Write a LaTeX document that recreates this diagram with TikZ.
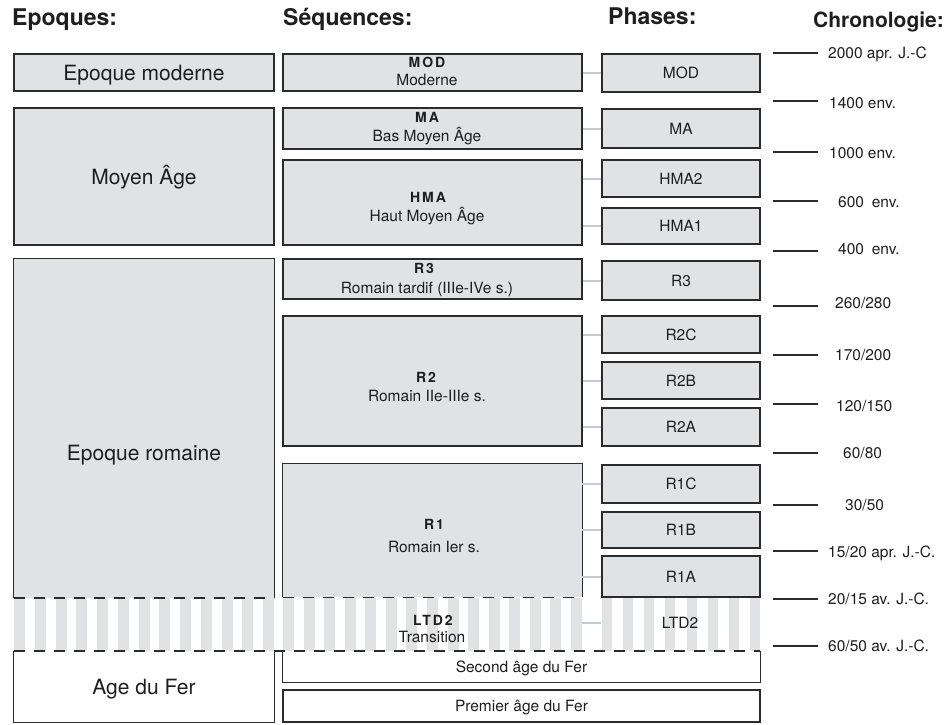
\documentclass[tikz,border=0pt]{standalone}
\usepackage{fontspec}
\setmainfont{TeX Gyre Heros}
\newfontfamily\codefont[LetterSpace=14]{TeX Gyre Heros}
\definecolor{boxfill}{HTML}{E1E2E4}
\definecolor{boxline}{HTML}{2B2B2B}
\definecolor{connc}{HTML}{C9C9C9}
\definecolor{txt}{HTML}{1E1E1E}
% name, x1, y1, x2, y2, style, text
\newcommand\Bx[7]{\node[#6, minimum width={(#4-#2)*1pt}, minimum height={(#5-#3)*1pt}] (#1) at ({(#2+#4)/2},{(#3+#5)/2}) {#7};}
\begin{document}
\begin{tikzpicture}[x=1pt,y=-1pt,
  gbox/.style={draw=boxline, fill=boxfill, line width=1.2pt, inner sep=0pt, align=center, text=txt,
    font=\fontsize{15.5}{18}\selectfont, text height=11.1pt, text depth=0pt},
  fillonly/.style={fill=boxfill, inner sep=0pt, text=txt},
  wfill/.style={fill=white, inner sep=0pt, text=txt, font=\fontsize{15.5}{18}\selectfont, text height=11.1pt, text depth=0pt},
  big/.style={font=\fontsize{21}{24}\selectfont, text height=15.1pt, text depth=0pt},
  bigtext/.style={inner sep=0pt, text=txt, font=\fontsize{21}{24}\selectfont, text height=15.1pt, text depth=0pt},
  head/.style={anchor=base west, inner sep=0pt, text=txt, font=\fontsize{23}{26}\selectfont\bfseries},
  code/.style={anchor=base, inner sep=0pt, text=txt, font=\codefont\fontsize{14}{16}\selectfont\bfseries},
  sub/.style={anchor=base, inner sep=0pt, text=txt, font=\fontsize{15.5}{18}\selectfont},
  ptext/.style={inner sep=0pt, text=txt, font=\fontsize{15.5}{18}\selectfont, text height=11.1pt, text depth=0pt},
  chron/.style={anchor=west, inner sep=0pt, text=txt, font=\fontsize{15.5}{18}\selectfont, text height=11.1pt, text depth=0pt},
  tickline/.style={draw=boxline, line width=1.2pt},
  conn/.style={draw=connc, line width=2pt},
  border/.style={draw=boxline, line width=1.2pt},
  dashline/.style={draw=boxline, line width=1.2pt, dash pattern=on 11pt off 9pt}]
\useasboundingbox (0,0) rectangle (950,724);
\fill[white] (0,0) rectangle (950,724);

% striped transition band (per column)
\foreach \i in {0,...,12} \fill[boxfill] ({14+\i*20.75},598) rectangle ++(11,53);
\foreach \i in {0,...,14} \fill[boxfill] ({283+\i*20.57},598) rectangle ++(11,53);
\foreach \i in {0,...,7} \fill[boxfill] ({602+\i*21.14},598) rectangle ++(10,53);

% headers
\node[head] (hEp) at (12,25) {Epoques:};
\node[head] (hSeq) at (283,25) {Séquences:};
\node[head] (hPh) at (608,24) {Phases:};
\node[head, font=\fontsize{21}{24}\selectfont\bfseries] (hCh) at (813,27) {Chronologie:};

% ---- column 1: epoques
\Bx{eMod}{14}{54}{274}{91}{gbox,big}{Epoque moderne}
\Bx{eMA}{14}{108}{274}{245}{gbox,big}{Moyen Âge}
\Bx{eRom}{14}{259}{274}{598}{fillonly}{}
\draw[border] (eRom.south west) -- (eRom.north west) -- (eRom.north east) -- (eRom.south east);
\node[bigtext] (eRomT) at (144,453) {Epoque romaine};
\Bx{eFer}{14}{651}{274}{722}{wfill,big}{Age du Fer}
\draw[border] (eFer.north west) -- (eFer.south west) -- (eFer.south east) -- (eFer.north east);

% ---- column 2: sequences
\Bx{sMod}{283}{54}{582}{91}{gbox}{}
\node[code] (sModC) at (427,67) {MOD};
\node[sub] (sModS) at (427,85) {Moderne};
\Bx{sMA}{283}{108}{582}{149}{gbox}{}
\node[code] (sMAC) at (427,122) {MA};
\node[sub] (sMAS) at (427,141) {Bas Moyen Âge};
\Bx{sHMA}{283}{160}{582}{245}{gbox}{}
\node[code] (sHMAC) at (428,202) {HMA};
\node[sub] (sHMAS) at (427,221) {Haut Moyen Âge};
\Bx{sR3}{283}{259}{582}{299}{gbox}{}
\node[code] (sR3C) at (424,273) {R3};
\node[sub] (sR3S) at (427,293) {Romain tardif (IIIe-IVe s.)};
\Bx{sR2}{283}{316}{582}{446}{gbox}{}
\node[code] (sR2C) at (426,382) {R2};
\node[sub] (sR2S) at (427,401) {Romain IIe-IIIe s.};
\Bx{sR1}{283}{464}{582}{597}{fillonly}{}
\draw[border] (sR1.south west) -- (sR1.north west) -- (sR1.north east) -- (sR1.south east);
\node[code] (sR1C) at (434,529) {R1};
\node[sub] (sR1S) at (434,552) {Romain Ier s.};
\node[code] (sLTDC) at (433,625) {LTD2};
\node[sub] (sLTDS) at (432,642) {Transition};
\Bx{sFer2}{283}{651}{760}{682}{wfill}{Second âge du Fer}
\draw[border] (sFer2.north west) -- (sFer2.south west) -- (sFer2.south east) -- (sFer2.north east);
\Bx{sFer1}{283}{690}{760}{722}{gbox,fill=white}{Premier âge du Fer}

% dashed limits of the transition band
\draw[dashline] (14,598) -- (274,598);
\draw[dashline] (283,597.5) -- (582,597.5);
\draw[dashline] (14,651) -- (760,651);

% ---- column 3: phases
\Bx{pMod}{602}{54}{760}{92}{gbox}{MOD}
\Bx{pMA}{602}{109}{760}{148}{gbox}{MA}
\Bx{pHMA2}{602}{160}{760}{197}{gbox}{HMA2}
\Bx{pHMA1}{602}{208}{760}{244}{gbox}{HMA1}
\Bx{pR3}{602}{261}{760}{300}{gbox}{R3}
\Bx{pR2C}{602}{316}{760}{353}{gbox}{R2C}
\Bx{pR2B}{602}{362}{760}{399}{gbox}{R2B}
\Bx{pR2A}{602}{408}{760}{446}{gbox}{R2A}
\Bx{pR1C}{602}{465}{760}{503}{gbox}{R1C}
\Bx{pR1B}{602}{512}{760}{548}{gbox}{R1B}
\Bx{pR1A}{602}{556}{760}{597}{gbox}{R1A}
\node[ptext] (pLTD) at (680,623) {LTD2};

% connectors
\draw[conn] (pMod.west) -- (pMod.west -| sMod.east);
\draw[conn] (pMA.west) -- (pMA.west -| sMA.east);
\draw[conn] (pHMA2.west) -- (pHMA2.west -| sHMA.east);
\draw[conn] (pHMA1.west) -- (pHMA1.west -| sHMA.east);
\draw[conn] (pR3.west) -- (pR3.west -| sR3.east);
\draw[conn] (pR2C.west) -- (pR2C.west -| sR2.east);
\draw[conn] (pR2B.west) -- (pR2B.west -| sR2.east);
\draw[conn] (pR2A.west) -- (pR2A.west -| sR2.east);
\draw[conn] (pR1C.west) -- (pR1C.west -| sR1.east);
\draw[conn] (pR1B.west) -- (pR1B.west -| sR1.east);
\draw[conn] (pR1A.west) -- (pR1A.west -| sR1.east);
\draw[conn] (pLTD -| pR1A.west) -- (pLTD -| sR1.east);

% ---- chronology
\foreach \y in {53,101,152,201,251,306,355,404,453,505,551,599,646}
  \draw[tickline] (773,\y) -- (818,\y);
\node[chron] (c01) at (828,53) {2000 apr. J.-C};
\node[chron] (c02) at (829,103) {1400 env.};
\node[chron] (c03) at (829,153) {1000 env.};
\node[chron] (c04) at (838,202) {600\enspace env.};
\node[chron] (c05) at (838,249) {400\enspace env.};
\node[chron] (c06) at (835,303) {260/280};
\node[chron] (c07) at (835,355) {170/200};
\node[chron] (c08) at (836,406) {120/150};
\node[chron] (c09) at (843,453) {60/80};
\node[chron] (c10) at (845,505) {30/50};
\node[chron] (c11) at (828,552) {15/20 apr. J.-C.};
\node[chron] (c12) at (828,599) {20/15 av. J.-C.};
\node[chron] (c13) at (828,646) {60/50 av. J.-C.};
\end{tikzpicture}
\end{document}
